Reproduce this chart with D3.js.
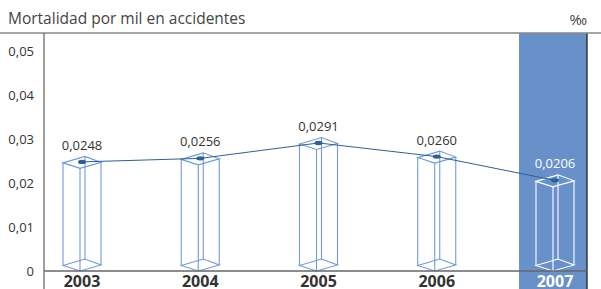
<!DOCTYPE html>
<html><head><meta charset="utf-8">
<script src="https://cdn.jsdelivr.net/npm/d3@7"></script>
<style>html,body{margin:0;padding:0;background:#fff;}svg{display:block;}</style>
</head><body>
<svg id="chart" width="601" height="289"></svg>
<script>
const years = ["2003", "2004", "2005", "2006", "2007"];
const values = [0.0248, 0.0256, 0.0291, 0.0260, 0.0206];
const valueLabels = ["0,0248", "0,0256", "0,0291", "0,0260", "0,0206"];
const yTicks = [0, 0.01, 0.02, 0.03, 0.04, 0.05];
const yTickLabels = ["0", "0,01", "0,02", "0,03", "0,04", "0,05"];
const highlightYear = "2007";
const title = "Mortalidad por mil en accidentes";
const unit = "‰";

const svg = d3.select("#chart");
const font = "'Open Sans', 'Noto Sans', sans-serif";
const textColor = "#333";

const x = d3.scalePoint().domain(years).range([82, 555]);
const y = d3.scaleLinear().domain([0, 0.05]).range([271, 51]);

// highlight band
const hx = x(highlightYear);
svg.append("rect").attr("x", hx - 36).attr("y", 33).attr("width", 68).attr("height", 256).attr("fill", "#6891ca");
svg.append("line").attr("x1", hx + 32).attr("x2", hx + 32).attr("y1", 33).attr("y2", 289).attr("stroke", "#111").attr("stroke-width", 1.2);

// frame lines
svg.append("line").attr("x1", 0).attr("x2", 601).attr("y1", 33).attr("y2", 33).attr("stroke", "#888").attr("stroke-width", 1.5);
svg.append("line").attr("x1", 44).attr("x2", 44).attr("y1", 33).attr("y2", 289).attr("stroke", "#777").attr("stroke-width", 1.4);

// title & unit
svg.append("text").attr("x", 8).attr("y", 24).attr("font-family", font).attr("font-size", 15.5).attr("fill", "#444").text(title);
svg.append("text").attr("x", 587).attr("y", 25).attr("text-anchor", "end").attr("font-family", font).attr("font-size", 15).attr("fill", "#444").text(unit);

// y axis labels
svg.append("g").selectAll("text").data(yTicks).join("text")
  .attr("x", 34).attr("y", d => y(d)).attr("dy", "0.35em").attr("text-anchor", "end")
  .attr("font-family", font).attr("font-size", 13).attr("fill", textColor)
  .text((d, i) => yTickLabels[i]);

// 3D wireframe boxes
const off = {L: [-19, 1], F: [-2, 6.5], R: [19, 0.5], B: [3, -5.5]};
const order = ["L", "F", "R", "B"];
const boxes = svg.append("g");
years.forEach((yr, i) => {
  const cx = x(yr), yt = y(values[i]), yb = y(0) - 6.5;
  const col = yr === highlightYear ? "#ffffff" : "#7299da";
  const g = boxes.append("g").attr("fill", "none").attr("stroke", col).attr("stroke-width", 1.1);
  const pts = yy => order.map(k => [cx + off[k][0], yy + off[k][1]]);
  g.append("path").attr("d", d3.line()(pts(yt)) + "Z");
  g.append("path").attr("d", d3.line()(pts(yb)) + "Z");
  order.forEach(k => {
    g.append("line").attr("x1", cx + off[k][0]).attr("x2", cx + off[k][0])
      .attr("y1", yt + off[k][1]).attr("y2", yb + off[k][1]);
  });
});

// baseline
svg.append("line").attr("x1", 44).attr("x2", hx + 32).attr("y1", y(0)).attr("y2", y(0)).attr("stroke", "#666").attr("stroke-width", 1.4);

// connecting line and markers
svg.append("path").datum(values.map((v, i) => [x(years[i]), y(v)]))
  .attr("d", d3.line()).attr("fill", "none").attr("stroke", "#2e5f98").attr("stroke-width", 1);
svg.append("g").selectAll("ellipse").data(values).join("ellipse")
  .attr("cx", (d, i) => x(years[i])).attr("cy", d => y(d)).attr("rx", 4).attr("ry", 2.2).attr("fill", "#2e5f98");

// value labels
svg.append("g").selectAll("text").data(values).join("text")
  .attr("x", (d, i) => x(years[i])).attr("y", d => y(d) - 12).attr("text-anchor", "middle")
  .attr("font-family", font).attr("font-size", 13)
  .attr("fill", (d, i) => years[i] === highlightYear ? "#fff" : textColor)
  .text((d, i) => valueLabels[i]);

// year labels
svg.append("g").selectAll("text").data(years).join("text")
  .attr("x", d => x(d)).attr("y", 286.5).attr("text-anchor", "middle")
  .attr("font-family", font).attr("font-size", 16).attr("font-weight", "bold")
  .attr("fill", d => d === highlightYear ? "#fff" : "#333")
  .text(d => d);
</script>
</body></html>
